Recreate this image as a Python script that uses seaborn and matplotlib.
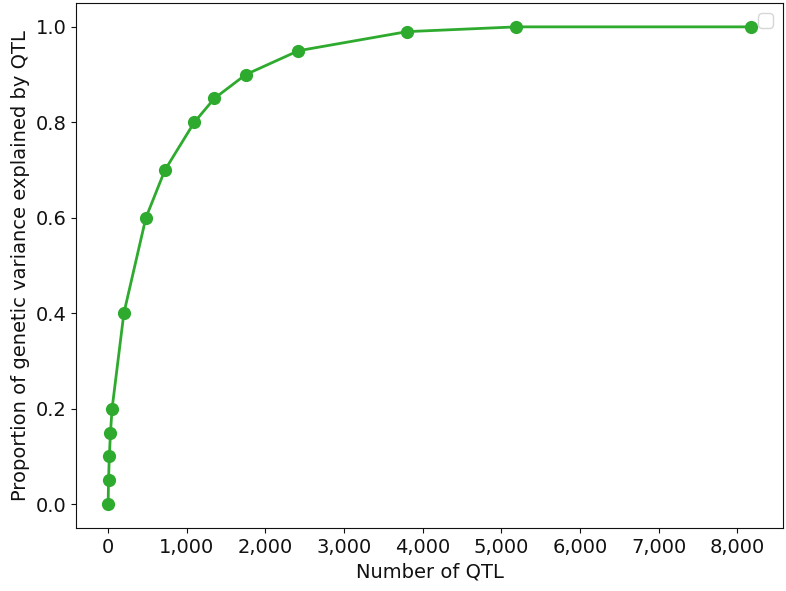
import matplotlib
matplotlib.use("Agg")
import matplotlib.pyplot as plt
import matplotlib.ticker as mticker
import pandas as pd
import seaborn as sns

# Cumulative proportion of genetic variance explained vs number of QTL
n_qtl = [0, 5, 15, 30, 50, 200, 480, 722, 1095, 1350, 1749, 2419, 3799, 5190, 8170]
prop_var = [0.0, 0.05, 0.10, 0.15, 0.20, 0.40, 0.60, 0.70, 0.80, 0.85, 0.90, 0.95, 0.99, 1.0, 1.0]

df = pd.DataFrame({"n_qtl": n_qtl, "prop_var": prop_var})

sns.set_style("ticks")
for key in ("text.color", "axes.labelcolor", "xtick.color", "ytick.color", "axes.edgecolor"):
    plt.rcParams[key] = "#111111"

fig, ax = plt.subplots(figsize=(7.86, 5.91), dpi=100)

sns.lineplot(data=df, x="n_qtl", y="prop_var", marker="o", markersize=9.5,
             markeredgewidth=0, color="#2eab2e", linewidth=2, ax=ax)

ax.xaxis.set_major_formatter(mticker.FuncFormatter(lambda v, _: f"{int(v):,}"))
ax.set_xlabel("Number of QTL", fontsize=14)
ax.set_ylabel("Proportion of genetic variance explained by QTL", fontsize=14)
ax.tick_params(labelsize=14)
ax.legend(loc="upper right", fontsize=14)

fig.subplots_adjust(left=76 / 786, right=783 / 786, top=1 - 3 / 591, bottom=1 - 528 / 591)
fig.savefig("out.png", dpi=100)
